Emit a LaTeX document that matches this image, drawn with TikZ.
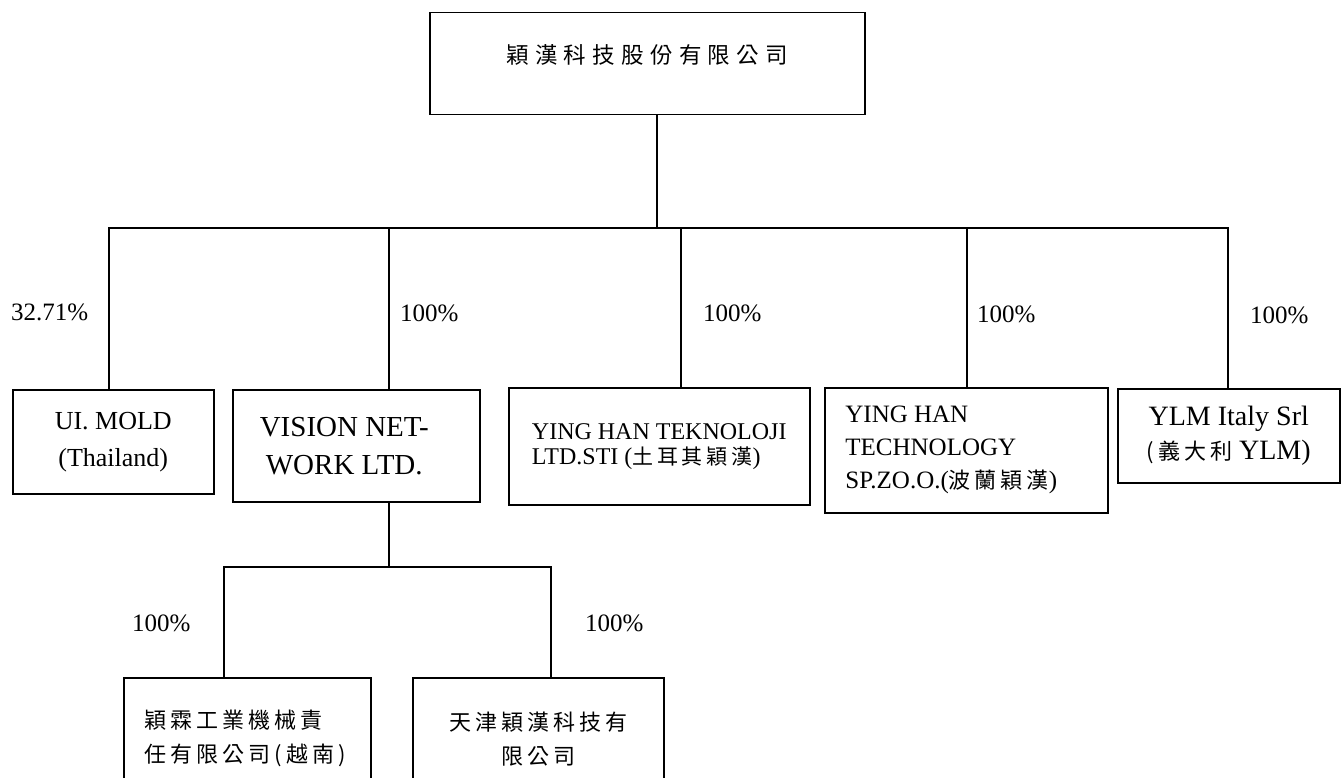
\documentclass[tikz,border=0pt]{standalone}
\usepackage{fontspec}
\setmainfont{Liberation Serif}
\newfontfamily\cjkT{Noto Sans CJK TC}[LetterSpace=28]
\newfontfamily\cjk{Noto Sans CJK TC}[LetterSpace=18]
\begin{document}
\begin{tikzpicture}[x=1pt,y=-1pt,
  box/.style={draw, line width=1.5pt, rectangle, anchor=north west, inner sep=0pt},
  conn/.style={line width=1.5pt},
  pct/.style={anchor=west, inner sep=0pt, font=\fontsize{25}{30}\selectfont}]
\useasboundingbox (0,0) rectangle (1341,778);
\clip (0,0) rectangle (1341,778);
% boxes
\node[box, minimum width=435pt, minimum height=102pt, text height=10pt, text depth=10pt,
  font={\cjkT\fontsize{22.5}{26}\selectfont}] (top) at (429,12) {穎漢科技股份有限公司};
\node[box, minimum width=201pt, minimum height=104pt, align=center,
  font=\fontsize{26}{37}\selectfont] (ui) at (12,389) {UI. MOLD\\(Thailand)};
\node[box, minimum width=247pt, minimum height=112pt, align=center,
  font=\fontsize{29}{38}\selectfont] (vis) at (232,389) {VISION NET-\hspace*{24pt}\\WORK LTD.\hspace*{24pt}};
\node[box, minimum width=301pt, minimum height=117pt, align=left,
  font=\fontsize{24}{25}\selectfont] (tek) at (508,387) {YING HAN TEKNOLOJI\\LTD.STI ({\cjk\fontsize{21}{25}\selectfont 土耳其穎漢})};
\node[box, minimum width=283pt, minimum height=125pt, align=left,
  font=\fontsize{25}{33}\selectfont] (tech) at (824,387) {YING HAN\\TECHNOLOGY\\SP.ZO.O.({\cjk\fontsize{22}{33}\selectfont 波蘭穎漢})\hspace*{30pt}};
\node[box, minimum width=222pt, minimum height=94pt, align=center,
  font=\fontsize{28}{34}\selectfont] (ylm) at (1117,388) {YLM Italy Srl\\{\cjk\fontsize{22}{34}\selectfont (義大利} YLM)};
\node[box, minimum width=247pt, minimum height=122pt, align=left,
  font={\cjk\fontsize{22}{34}\selectfont}] (vn) at (123,677) {穎霖工業機械責\\任有限公司(越南)\hspace*{4pt}};
\node[box, minimum width=251pt, minimum height=122pt, align=center,
  font={\cjk\fontsize{22}{34}\selectfont}] (tj) at (412,677) {天津穎漢科技有\\限公司};
% connectors
\coordinate (b0) at (657,228);
\coordinate (b1) at (109,228);
\coordinate (b2) at (389,228);
\coordinate (b3) at (681,228);
\coordinate (b4) at (967,228);
\coordinate (b5) at (1228,228);
\draw[conn] (b0 |- top.south) -- (b0);
\draw[conn] (b1 |- ui.north) -- (b1) -- (b5) -- (b5 |- ylm.north);
\draw[conn] (b2) -- (b2 |- vis.north);
\draw[conn] (b3) -- (b3 |- tek.north);
\draw[conn] (b4) -- (b4 |- tech.north);
\coordinate (s0) at (389,567);
\coordinate (s1) at (224,567);
\coordinate (s2) at (551,567);
\draw[conn] (s0 |- vis.south) -- (s0);
\draw[conn] (s1 |- vn.north) -- (s1) -- (s2) -- (s2 |- tj.north);
% percentages
\node[pct] (p1) at (11,312) {32.71\%};
\node[pct] (p2) at (400,313) {100\%};
\node[pct] (p3) at (703,313) {100\%};
\node[pct] (p4) at (977,314) {100\%};
\node[pct] (p5) at (1250,315) {100\%};
\node[pct] (p6) at (132,623) {100\%};
\node[pct] (p7) at (585,623) {100\%};
\end{tikzpicture}
\end{document}
